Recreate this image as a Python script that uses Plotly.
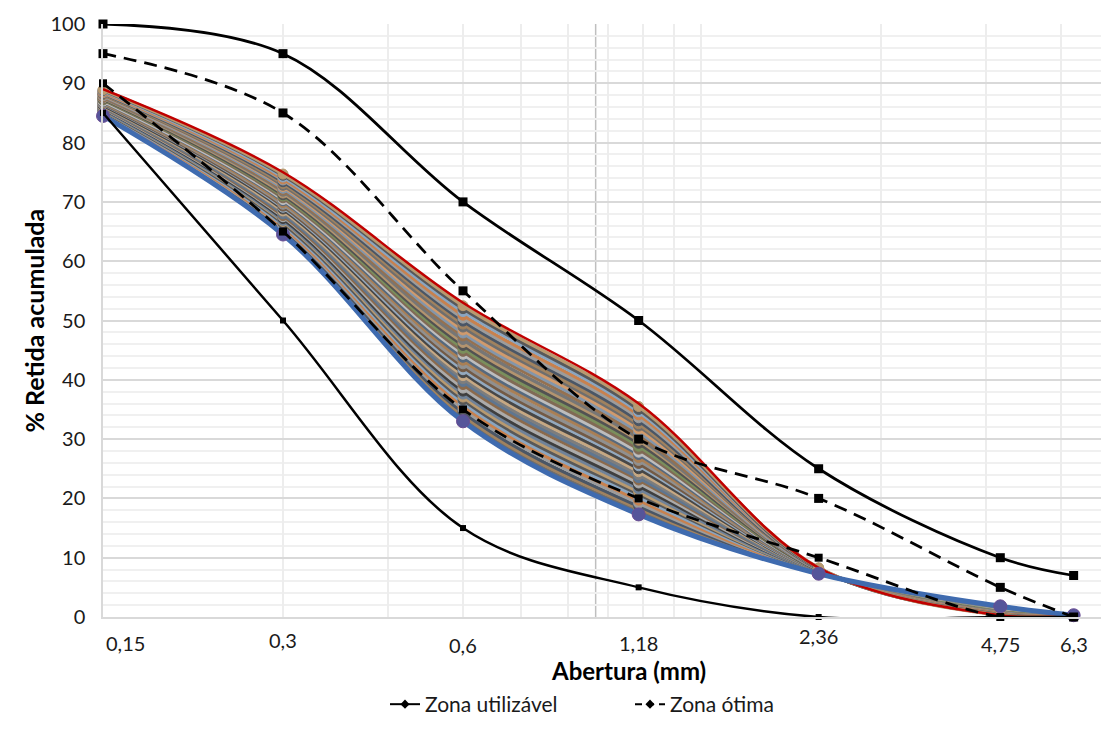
import math
import plotly.graph_objects as go

# ---------------- data ----------------
sieves = [0.15, 0.3, 0.6, 1.18, 2.36, 4.75, 6.3]
sieve_labels = ["0,15", "0,3", "0,6", "1,18", "2,36", "4,75", "6,3"]

util_upper = [100, 95, 70, 50, 25, 10, 7]
util_lower = [85, 50, 15, 5, 0, 0, 0]
otima_upper = [95, 85, 55, 30, 20, 5, 0]
otima_lower = [90, 65, 35, 20, 10, 0, 0]

# band of analysed samples, one list per sieve (bottom series first)
band_015 = [84.5, 84.6, 84.7, 84.8, 85.0, 85.1, 85.2, 85.3, 85.4, 85.5,
            85.7, 85.8, 85.9, 86.0, 86.1, 86.2, 86.3, 86.5, 86.6, 86.7,
            86.8, 86.9, 87.0, 87.2, 87.3, 87.4, 87.5, 87.6, 87.7, 87.9,
            88.0, 88.1, 88.2, 88.3, 88.4, 88.5, 88.7, 88.8, 88.9, 89.0]
band_03 = [64.5, 64.8, 65.0, 65.3, 65.6, 65.8, 66.1, 66.4, 66.7, 66.9,
           67.2, 67.5, 67.7, 68.0, 68.3, 68.5, 68.8, 69.1, 69.3, 69.6,
           69.9, 70.2, 70.4, 70.7, 71.0, 71.2, 71.5, 71.8, 72.0, 72.3,
           72.6, 72.8, 73.1, 73.4, 73.7, 73.9, 74.2, 74.5, 74.7, 75.0]
band_06 = [33.0, 33.5, 34.0, 34.5, 35.1, 35.6, 36.1, 36.6, 37.1, 37.6,
           38.1, 38.6, 39.2, 39.7, 40.2, 40.7, 41.2, 41.7, 42.2, 42.7,
           43.3, 43.8, 44.3, 44.8, 45.3, 45.8, 46.3, 46.8, 47.4, 47.9,
           48.4, 48.9, 49.4, 49.9, 50.4, 50.9, 51.5, 52.0, 52.5, 53.0]
band_118 = [17.3, 17.8, 18.3, 18.7, 19.2, 19.7, 20.2, 20.7, 21.1, 21.6,
            22.1, 22.6, 23.1, 23.5, 24.0, 24.5, 25.0, 25.5, 25.9, 26.4,
            26.9, 27.4, 27.8, 28.3, 28.8, 29.3, 29.8, 30.2, 30.7, 31.2,
            31.7, 32.2, 32.6, 33.1, 33.6, 34.1, 34.6, 35.0, 35.5, 36.0]
band_236 = [7.3, 7.3, 7.4, 7.4, 7.4, 7.4, 7.5, 7.5, 7.5, 7.5,
            7.6, 7.6, 7.6, 7.6, 7.7, 7.7, 7.7, 7.7, 7.8, 7.8,
            7.8, 7.8, 7.9, 7.9, 7.9, 7.9, 8.0, 8.0, 8.0, 8.0,
            8.1, 8.1, 8.1, 8.1, 8.2, 8.2, 8.2, 8.2, 8.3, 8.3]
band_475 = [1.8, 1.8, 1.7, 1.7, 1.6, 1.6, 1.6, 1.5, 1.5, 1.5,
            1.4, 1.4, 1.3, 1.3, 1.3, 1.2, 1.2, 1.1, 1.1, 1.1,
            1.0, 1.0, 1.0, 0.9, 0.9, 0.8, 0.8, 0.8, 0.7, 0.7,
            0.6, 0.6, 0.6, 0.5, 0.5, 0.5, 0.4, 0.4, 0.3, 0.3]
band_63 = [0.3, 0.3, 0.3, 0.3, 0.3, 0.3, 0.3, 0.3, 0.3, 0.3,
           0.3, 0.3, 0.3, 0.3, 0.3, 0.3, 0.3, 0.3, 0.3, 0.3,
           0.3, 0.3, 0.3, 0.3, 0.3, 0.3, 0.3, 0.3, 0.3, 0.3,
           0.3, 0.3, 0.3, 0.3, 0.3, 0.3, 0.3, 0.3, 0.3, 0.3]

y_ticks = [0, 10, 20, 30, 40, 50, 60, 70, 80, 90, 100]
x_grid = [0.15, 0.3, 0.45, 0.6, 0.75, 0.9, 1.05, 1.2, 1.35, 1.5, 3.0, 4.5, 6.0]

# ---------------- styles ----------------
FONT = "Lato"
stripe_colors = ["#6E6E6E", "#A0825F", "#4A5666", "#9C9C9C", "#C8814E", "#8AA5C0",
                 "#585858", "#B89A70", "#6F8299", "#3F3F3F", "#ABABAB", "#8B6A4C",
                 "#5F7690", "#7D7D7D", "#C6A883", "#474747", "#94A9BE", "#735A45",
                 "#909090", "#A97F55", "#56697E", "#BDBDBD", "#806A55", "#7A8F5C",
                 "#525252", "#B3946F", "#767676", "#957150", "#8396AB", "#D09A6C"]
BOTTOM_BLUE = "#3F6BAF"
TOP_RED = "#C00000"

X_MIN, X_MAX = 0.15, 7.0
L, R, T, B = 103, 9, 24, 107
W, H = 1110, 734
plot_w = W - L - R
plot_h = H - T - B

def px_to_paper_x(px):
    return (px - L) / plot_w

def px_to_paper_y(py):
    return (H - B - py) / plot_h

fig = go.Figure()

bands = [band_015, band_03, band_06, band_118, band_236, band_475, band_63]
n_series = len(band_015)

def series(i):
    return [b[i] for b in bands]

# middle series (drawn first)
for i in range(1, n_series - 1):
    col = stripe_colors[(i - 1) % len(stripe_colors)]
    fig.add_trace(go.Scatter(
        x=sieves, y=series(i), mode="lines+markers", cliponaxis=False,
        line=dict(color=col, width=3.5, shape="spline", smoothing=1),
        marker=dict(symbol="circle", size=10, color=col,
                    line=dict(color=col, width=1)),
        showlegend=False, hoverinfo="skip"))
# top series (red, thin)
fig.add_trace(go.Scatter(
    x=sieves, y=series(n_series - 1), mode="lines",
    line=dict(color=TOP_RED, width=2.5, shape="spline", smoothing=1),
    showlegend=False, hoverinfo="skip"))
# bottom series (blue, thick)
fig.add_trace(go.Scatter(
    x=sieves, y=series(0), mode="lines+markers", cliponaxis=False,
    line=dict(color=BOTTOM_BLUE, width=5, shape="spline", smoothing=1),
    marker=dict(symbol="circle", size=13, color="#55559A",
                line=dict(color="#6A4C93", width=1)),
    showlegend=False, hoverinfo="skip"))

# limit curves
fig.add_trace(go.Scatter(x=sieves, y=otima_upper, mode="lines+markers", cliponaxis=False,
                         line=dict(color="black", width=2.75, dash="13px,8px",
                                   shape="spline", smoothing=1),
                         marker=dict(symbol="square", size=9, color="black"),
                         showlegend=False))
fig.add_trace(go.Scatter(x=sieves, y=otima_lower, mode="lines+markers", cliponaxis=False,
                         line=dict(color="black", width=2.75, dash="13px,8px",
                                   shape="spline", smoothing=1),
                         marker=dict(symbol="square", size=8, color="black"),
                         showlegend=False))
fig.add_trace(go.Scatter(x=sieves, y=util_upper, mode="lines+markers", cliponaxis=False,
                         line=dict(color="black", width=2.75,
                                   shape="spline", smoothing=1),
                         marker=dict(symbol="square", size=9, color="black"),
                         showlegend=False))
fig.add_trace(go.Scatter(x=sieves, y=util_lower, mode="lines+markers", cliponaxis=False,
                         line=dict(color="black", width=2.5,
                                   shape="spline", smoothing=1),
                         marker=dict(symbol="square", size=6, color="black"),
                         showlegend=False))

# legend entries
fig.add_trace(go.Scatter(x=[None], y=[None], mode="lines+markers",
                         name="Zona utilizável",
                         line=dict(color="black", width=2),
                         marker=dict(symbol="diamond", size=7, color="black")))
fig.add_trace(go.Scatter(x=[None], y=[None], mode="lines+markers",
                         name="Zona ótima",
                         line=dict(color="black", width=2, dash="7px,5px"),
                         marker=dict(symbol="diamond", size=7, color="black")))

shapes = []
shapes.append(dict(type="line", xref="x", yref="y", x0=1.5, x1=1.5, y0=0, y1=100,
                   line=dict(color="#D9D9D9", width=1.5), layer="below"))
shapes.append(dict(type="line", xref="x", yref="y", x0=1, x1=1, y0=0, y1=100,
                   line=dict(color="#BFBFBF", width=1.5), layer="below"))
for yt in y_ticks:
    shapes.append(dict(type="line", xref="x", yref="y", x0=-6, x1=0, y0=yt, y1=yt,
                       xsizemode="pixel", xanchor=1,
                       line=dict(color="#BFBFBF", width=1.5), layer="below"))

annotations = []
label_shift_x = [22, 0, 0, 0, 0, 0, 0]
label_shift_y = [-12, -9, -14, -12, -5, -13, -13]
for s, lab, dx, dy in zip(sieves, sieve_labels, label_shift_x, label_shift_y):
    annotations.append(dict(x=math.log10(s), y=0, xref="x", yref="y",
                            text=lab, showarrow=False, xanchor="center",
                            yanchor="top", xshift=dx, yshift=dy,
                            font=dict(family=FONT, size=20, color="#1a1a1a")))
annotations.append(dict(x=px_to_paper_x(628), y=px_to_paper_y(681),
                        xref="paper", yref="paper", text="<b>Abertura (mm)</b>",
                        showarrow=False, xanchor="center", yanchor="middle",
                        font=dict(family=FONT, size=24, color="#000")))
annotations.append(dict(x=px_to_paper_x(33), y=0.5, xref="paper", yref="paper",
                        text="<b>% Retida acumulada</b>", textangle=-90,
                        showarrow=False, xanchor="center", yanchor="middle",
                        font=dict(family=FONT, size=25, color="#000")))

fig.update_layout(
    width=W, height=H,
    margin=dict(l=L, r=R, t=T, b=B, pad=0),
    paper_bgcolor="white", plot_bgcolor="white",
    font=dict(family=FONT, size=16, color="#1a1a1a"),
    xaxis=dict(type="log", range=[math.log10(X_MIN), math.log10(X_MAX)],
               tickmode="array", tickvals=x_grid, showticklabels=False,
               ticks="", showgrid=True, gridcolor="#EDEDED", gridwidth=1.5,
               showline=True, linecolor="#D9D9D9", linewidth=1.5,
               zeroline=False),
    yaxis=dict(range=[0, 100], tickmode="array", tickvals=y_ticks,
               ticks="", showgrid=True, gridcolor="#D9D9D9", gridwidth=1.5,
               minor=dict(dtick=2, showgrid=True, gridcolor="#F0F0F0", gridwidth=1.5),
               showline=True, linecolor="#D9D9D9", linewidth=1.5,
               zeroline=False, ticklabelstandoff=12,
               tickfont=dict(family=FONT, size=20, color="#1a1a1a")),
    showlegend=True,
    legend=dict(orientation="h", x=px_to_paper_x(385), xanchor="left",
                y=px_to_paper_y(716), yanchor="middle",
                font=dict(family=FONT, size=21, color="#1a1a1a"),
                itemwidth=30, entrywidth=200, bgcolor="rgba(0,0,0,0)"),
    shapes=shapes,
    annotations=annotations,
)

fig.write_html("out.html")
